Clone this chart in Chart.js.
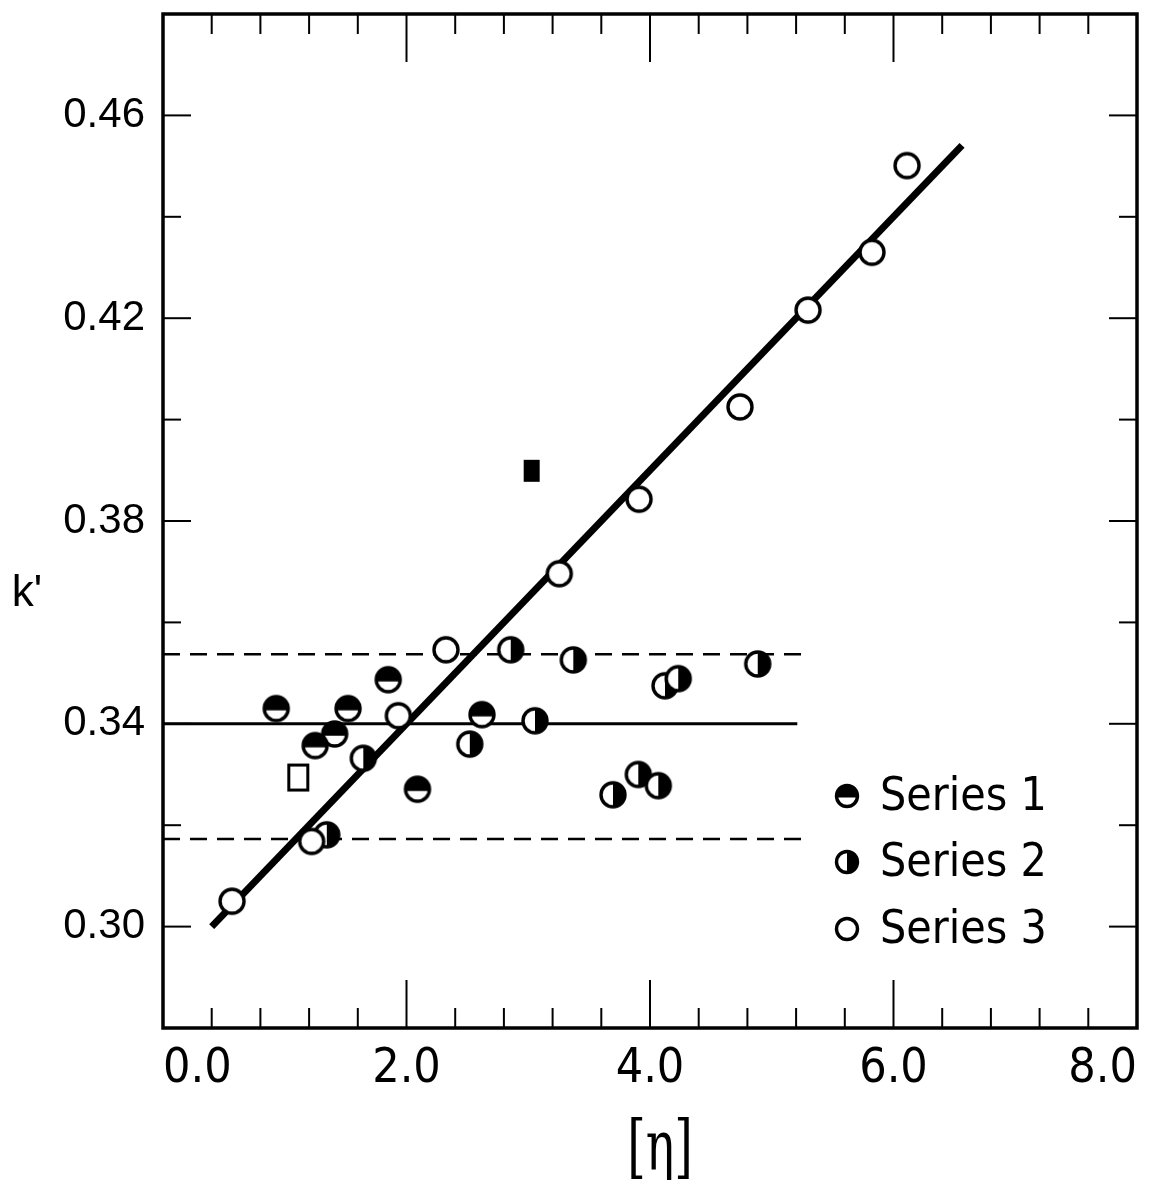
<!DOCTYPE html>
<html>
<head>
<meta charset="utf-8">
<script src="https://cdn.jsdelivr.net/npm/chart.js@4.4.0/dist/chart.umd.min.js"></script>
<style>
    body { margin: 0; background: #fff; }
</style>
</head>
<body>
<canvas id="kChart" width="1160" height="1180"></canvas>
<script>
// Series 1 (top half filled circles)
const series1X = [0.93, 1.52, 1.85, 2.09, 2.62, 1.41, 1.25];
const series1Y = [0.343, 0.343, 0.3487, 0.3271, 0.3418, 0.338, 0.3357];

// Series 2 (right half filled circles)
const series2X = [1.345, 1.645, 2.52, 2.856, 3.055, 3.37, 3.696, 3.904, 4.068, 4.123, 4.232, 4.885];
const series2Y = [0.3181, 0.3332, 0.336, 0.3546, 0.3406, 0.3526, 0.326, 0.33, 0.3278, 0.3475, 0.3489, 0.3518];

// Series 3 (open circles)
const series3X = [0.567, 1.221, 1.933, 2.324, 3.255, 3.91, 4.739, 5.298, 5.823, 6.111];
const series3Y = [0.305, 0.3168, 0.3416, 0.3546, 0.3696, 0.3843, 0.4025, 0.4216, 0.433, 0.4501];

// single square points
const openSquareX = [1.111];
const openSquareY = [0.3294];
const filledSquareX = [3.028];
const filledSquareY = [0.3899];

// fitted line through series 3
const fitX = [0.4, 6.563];
const fitY = [0.3, 0.4541];

// mean line and the two dashed limits
const meanX = [0, 5.21];
const meanY = [0.34, 0.34];
const upperX = [0, 5.27];
const upperY = [0.3537, 0.3537];
const lowerX = [0, 5.27];
const lowerY = [0.3173, 0.3173];

// axis ticks
const xMin = 0, xMax = 8, xStep = 0.4;
const xLabels = [0, 2, 4, 6, 8];
const yMin = 0.28, yMax = 0.48, yStep = 0.02;
const yLabels = [0.30, 0.34, 0.38, 0.42, 0.46];

const pts = (xs, ys) => xs.map((x, i) => ({ x: x, y: ys[i] }));
const near = (v, list) => list.some((l) => Math.abs(v - l) < 1e-6);

const makeMarker = (w, h, draw) => {
    const c = document.createElement('canvas');
    c.width = w;
    c.height = h;
    draw(c.getContext('2d'), w, h);
    return c;
};

const circleMarker = (part, r) => makeMarker(32, 32, (g, w, h) => {
    const cx = w / 2, cy = h / 2;
    g.fillStyle = '#fff';
    g.beginPath();
    g.arc(cx, cy, r, 0, Math.PI * 2);
    g.fill();
    g.fillStyle = '#000';
    if (part === 'top') {
        g.beginPath();
        g.arc(cx, cy, r, Math.PI - 0.15, Math.PI * 2 + 0.15);
        g.closePath();
        g.fill();
    }
    if (part === 'right') {
        g.beginPath();
        g.arc(cx, cy, r, -Math.PI / 2, Math.PI / 2);
        g.closePath();
        g.fill();
    }
    g.lineWidth = 3.4;
    g.strokeStyle = '#000';
    g.beginPath();
    g.arc(cx, cy, r, 0, Math.PI * 2);
    g.stroke();
});

const openSquare = makeMarker(24, 30, (g) => {
    g.fillStyle = '#fff';
    g.fillRect(2, 2, 20, 26);
    g.lineWidth = 3;
    g.strokeStyle = '#000';
    g.strokeRect(2.5, 2.5, 19, 25);
});
const filledSquare = makeMarker(18, 24, (g) => {
    g.fillStyle = '#000';
    g.fillRect(1, 1, 16, 22);
});

const markers = {
    'Series 1': circleMarker('top', 12),
    'Series 2': circleMarker('right', 12),
    'Series 3': circleMarker('none', 12),
};
const legendMarkers = {
    'Series 1': circleMarker('top', 10.5),
    'Series 2': circleMarker('right', 10.5),
    'Series 3': circleMarker('none', 10.5),
};

const condensed = '"DejaVu Sans Condensed", "DejaVu Sans", sans-serif';

const frame = {
    id: 'frame',
    afterDraw(chart) {
        const { ctx, chartArea: a, scales } = chart;
        const x = scales.x, y = scales.y;
        const seg = (x1, y1, x2, y2) => {
            ctx.beginPath();
            ctx.moveTo(x1, y1);
            ctx.lineTo(x2, y2);
            ctx.stroke();
        };
        ctx.save();
        ctx.strokeStyle = '#000';
        ctx.lineWidth = 2;
        x.ticks.forEach((t) => {
            const px = x.getPixelForValue(t.value);
            if (px <= a.left + 2 || px >= a.right - 2) return;
            const len = near(t.value, xLabels) ? 48 : 20;
            seg(px, a.top, px, a.top + len);
            seg(px, a.bottom, px, a.bottom - len);
        });
        y.ticks.forEach((t) => {
            const py = y.getPixelForValue(t.value);
            if (py <= a.top + 2 || py >= a.bottom - 2) return;
            const len = near(t.value, yLabels) ? 28 : 18;
            seg(a.left, py, a.left + len, py);
            seg(a.right, py, a.right - len, py);
        });
        ctx.lineWidth = 3.5;
        ctx.strokeRect(a.left, a.top, a.right - a.left, a.bottom - a.top);

        // axis titles
        ctx.fillStyle = '#000';
        ctx.textAlign = 'center';
        ctx.textBaseline = 'alphabetic';
        ctx.font = '44px "Liberation Sans", sans-serif';
        ctx.fillText("k'", 27, 606);
        ctx.save();
        ctx.translate((a.left + a.right) / 2 + 10, 1170);
        ctx.scale(0.68, 1);
        ctx.font = '70px "DejaVu Serif", serif';
        ctx.fillText('[η]', 0, 0);
        ctx.restore();

        // legend
        const rows = [a.bottom - 232, a.bottom - 166, a.bottom - 99];
        ctx.textAlign = 'left';
        ctx.textBaseline = 'middle';
        ctx.font = '46px ' + condensed;
        Object.keys(legendMarkers).forEach((label, i) => {
            const m = legendMarkers[label];
            ctx.drawImage(m, a.right - 290 - m.width / 2, rows[i] - m.height / 2);
            ctx.fillText(label, a.right - 257, rows[i] + 2);
        });
        ctx.restore();
    },
};

const lineSet = (label, xs, ys, width, dash) => ({
    label: label,
    data: pts(xs, ys),
    showLine: true,
    pointRadius: 0,
    borderColor: '#000',
    borderWidth: width,
    borderDash: dash,
    order: 10,
});

const pointSet = (label, xs, ys, style, order) => ({
    label: label,
    data: pts(xs, ys),
    pointStyle: style,
    pointRadius: 13,
    order: order,
});

new Chart(document.getElementById('kChart'), {
    type: 'scatter',
    data: {
        datasets: [
            pointSet('Series 3', series3X, series3Y, markers['Series 3'], 1),
            pointSet('Series 1', series1X, series1Y, markers['Series 1'], 2),
            pointSet('Series 2', series2X, series2Y, markers['Series 2'], 3),
            pointSet('open square', openSquareX, openSquareY, openSquare, 4),
            pointSet('filled square', filledSquareX, filledSquareY, filledSquare, 4),
            lineSet('fit', fitX, fitY, 7, []),
            lineSet('mean', meanX, meanY, 3, []),
            lineSet('upper', upperX, upperY, 2.5, [17, 10]),
            lineSet('lower', lowerX, lowerY, 2.5, [17, 10]),
        ],
    },
    options: {
        responsive: false,
        animation: false,
        events: [],
        layout: {
            padding: { top: 14, right: 23, left: 0, bottom: 0 },
        },
        plugins: {
            legend: { display: false },
            tooltip: { enabled: false },
        },
        scales: {
            x: {
                type: 'linear',
                min: xMin,
                max: xMax,
                grid: { display: false, drawTicks: false },
                border: { display: false },
                ticks: {
                    stepSize: xStep,
                    autoSkip: false,
                    maxRotation: 0,
                    minRotation: 0,
                    align: 'inner',
                    padding: 13,
                    color: '#000',
                    font: { family: condensed, size: 48 },
                    callback: (v) => (near(v, xLabels) ? v.toFixed(1) : ''),
                },
                afterFit: (scale) => {
                    scale.height = 152;
                    scale.paddingLeft = 0;
                    scale.paddingRight = 0;
                },
            },
            y: {
                type: 'linear',
                min: yMin,
                max: yMax,
                grid: { display: false, drawTicks: false },
                border: { display: false },
                ticks: {
                    stepSize: yStep,
                    autoSkip: false,
                    padding: 18,
                    color: '#000',
                    font: { family: '"Liberation Sans", Arial, sans-serif', size: 42 },
                    callback: (v) => (near(v, yLabels) ? v.toFixed(2) : ''),
                },
                afterFit: (scale) => {
                    scale.width = 163;
                    scale.paddingTop = 0;
                    scale.paddingBottom = 0;
                },
            },
        },
    },
    plugins: [frame],
});
</script>
</body>
</html>
